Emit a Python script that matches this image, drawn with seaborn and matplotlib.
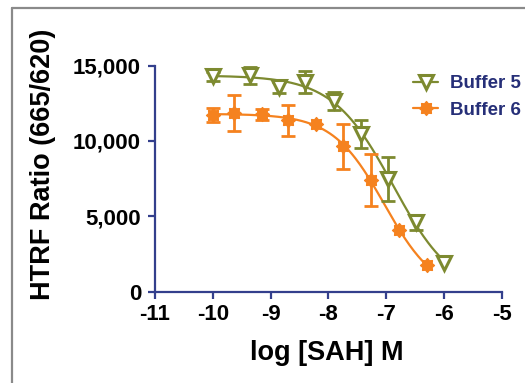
#!/usr/bin/env python3
"""
Curva dose-resposta HTRF para SAH (Buffer 5 vs Buffer 6)
"""

import numpy as np
import pandas as pd
import matplotlib
matplotlib.use('Agg')
import matplotlib.pyplot as plt
import seaborn as sns
from matplotlib.lines import Line2D
from matplotlib.path import Path
from matplotlib.ticker import FuncFormatter

# Dados
buffer5_x = [-10.0, -9.35, -8.86, -8.40, -7.91, -7.43, -6.96, -6.48, -5.99]
buffer5_y = [14300, 14350, 13550, 13900, 12650, 10480, 7480, 4590, 1920]
buffer5_err = [300, 550, 380, 720, 620, 930, 1470, 480, 0]

buffer6_x = [-10.0, -9.64, -9.15, -8.70, -8.21, -7.74, -7.26, -6.78, -6.30]
buffer6_y = [11700, 11850, 11750, 11350, 11100, 9650, 7400, 4080, 1770]
buffer6_err = [450, 1200, 380, 1050, 0, 1500, 1720, 0, 0]

series_names = ['Buffer 5', 'Buffer 6']
x_ticks = [-11, -10, -9, -8, -7, -6, -5]
y_ticks = [0, 5000, 10000, 15000]

GREEN = '#7d8a30'
ORANGE = '#f5821f'
NAVY = '#333f8c'
LEGEND_TXT = '#262f78'

sns.set_style('ticks')
plt.rcParams['font.family'] = ['Liberation Sans', 'DejaVu Sans']
plt.rcParams['font.weight'] = 'bold'
plt.rcParams['axes.unicode_minus'] = False


def fit_4pl(x, y):
    # ajuste logístico de 4 parâmetros por busca em grade (sem scipy)
    x = np.asarray(x, float)
    y = np.asarray(y, float)
    cs = np.linspace(-8.5, -5.5, 301)[:, None, None]
    hs = np.linspace(0.3, 2.5, 221)[None, :, None]
    f = 1.0 / (1.0 + 10 ** ((x[None, None, :] - cs) * hs))
    fm = f.mean(axis=2, keepdims=True)
    ym = y.mean()
    span = ((f - fm) * (y - ym)).sum(axis=2, keepdims=True) / ((f - fm) ** 2).sum(axis=2, keepdims=True)
    bottom = ym - span * fm
    sse = ((bottom + span * f - y) ** 2).sum(axis=2)
    i, j = np.unravel_index(np.argmin(sse), sse.shape)
    return cs[i, 0, 0], hs[0, j, 0], bottom[i, j, 0], span[i, j, 0]


def curve(x, params):
    c, h, b, s = params
    xs = np.linspace(min(x), max(x), 200)
    return xs, b + s / (1.0 + 10 ** ((xs - c) * h))


star8 = Path.unit_regular_star(8, 0.72)

fig = plt.figure(figsize=(5.25, 3.83), dpi=100)
ax = fig.add_axes([155 / 525, 1 - 291.5 / 383, (501.7 - 155) / 525, (291.5 - 65.5) / 383])

series = [
    (buffer5_x, buffer5_y, buffer5_err, GREEN, 'v', dict(mfc='white', mec=GREEN, mew=2.2, ms=9.5)),
    (buffer6_x, buffer6_y, buffer6_err, ORANGE, star8, dict(mfc=ORANGE, mec=ORANGE, mew=1.0, ms=10)),
]

handles = []
for name, (xv, yv, ev, col, mk, mkw) in zip(series_names, series):
    xs, ys = curve(xv, fit_4pl(xv, yv))
    df_fit = pd.DataFrame({'x': xs, 'y': ys})
    sns.lineplot(data=df_fit, x='x', y='y', ax=ax, color=col, lw=1.6, zorder=2)
    err = np.array(ev, float)
    ax.errorbar(xv, yv, yerr=np.where(err > 0, err, np.nan), fmt='none', ecolor=col,
                elinewidth=2.0, capsize=5, capthick=2.0, zorder=3)
    ax.plot(xv, yv, ls='none', marker=mk, color=col, zorder=4, clip_on=False, **mkw)
    handles.append(Line2D([], [], color=col, lw=1.6, marker=mk, **mkw))

ax.set_xlim(-11, -5)
ax.set_ylim(0, 15000)
ax.set_xticks(x_ticks)
ax.set_yticks(y_ticks)
ax.yaxis.set_major_formatter(FuncFormatter(lambda v, p: f'{int(v):,}'))
ax.set_xlabel('')
ax.set_ylabel('')

for side in ['top', 'right']:
    ax.spines[side].set_visible(False)
for side in ['left', 'bottom']:
    ax.spines[side].set_color(NAVY)
    ax.spines[side].set_linewidth(1.6)
ax.tick_params(axis='both', colors=NAVY, width=1.6, length=5, labelcolor='black', labelsize=16)
ax.tick_params(axis='x', pad=4)
ax.tick_params(axis='y', pad=5)
for lab in ax.get_xticklabels() + ax.get_yticklabels():
    lab.set_fontweight('bold')

fig.text(327 / 525, 1 - 353 / 383, 'log [SAH] M', ha='center', va='center',
         fontsize=19.5, fontweight='bold', color='black')
fig.text(43 / 525, 1 - 164 / 383, 'HTRF Ratio (665/620)', ha='center', va='center',
         rotation=90, fontsize=19.5, fontweight='bold', color='black')

leg = ax.legend(handles, series_names, loc='upper left', bbox_to_anchor=(404 / 525, 1 - 66 / 383),
                bbox_transform=fig.transFigure, frameon=False, borderpad=0, handlelength=1.3,
                handletextpad=0.65, labelspacing=0.5, prop={'size': 13.5, 'weight': 'bold'})
for t in leg.get_texts():
    t.set_color(LEGEND_TXT)

# moldura cinza (topo e esquerda)
fig.add_artist(Line2D([11.5 / 525, 1], [1 - 7.5 / 383, 1 - 7.5 / 383], color='#8a8a8a', lw=1.6))
fig.add_artist(Line2D([11.5 / 525, 11.5 / 525], [0, 1 - 7.5 / 383], color='#8a8a8a', lw=1.6))

fig.savefig('out.png', dpi=100)
